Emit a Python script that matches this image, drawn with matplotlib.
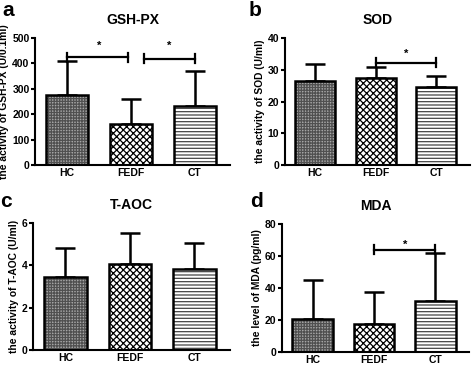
import matplotlib.pyplot as plt

plt.rcParams["font.family"] = ["Liberation Sans", "DejaVu Sans"]
plt.rcParams["font.weight"] = "bold"
plt.rcParams["hatch.linewidth"] = 0.9

groups = ["HC", "FEDF", "CT"]

gsh_mean = [275, 160, 232]
gsh_err = [135, 102, 140]
sod_mean = [26.5, 27.5, 24.7]
sod_err = [5.3, 3.5, 3.3]
taoc_mean = [3.45, 4.05, 3.83]
taoc_err = [1.38, 1.48, 1.2]
mda_mean = [20.5, 17.3, 32.0]
mda_err = [24.5, 20.0, 30.0]

hatches = ["++++++", "xxxxx", "-----"]
faces = ["#a6a6a6", "white", "white"]
hatch_colors = ["#505050", "black", "#444444"]

panels = [
    ("a", "GSH-PX", "the activity of GSH-PX (U/0.1ml)", gsh_mean, gsh_err, [0, 100, 200, 300, 400, 500],
     [0.074, 0.549, 0.411, 0.347], [(0, 0.95, 425), (1.2, 2, 418)], [(0.5, 470), (1.6, 470)], (0.005, 0.97)),
    ("b", "SOD", "the activity of SOD (U/ml)", sod_mean, sod_err, [0, 10, 20, 30, 40],
     [0.601, 0.549, 0.39, 0.347], [(1, 2, 32.2)], [(1.5, 35)], (0.525, 0.97)),
    ("c", "T-AOC", "the activity of T-AOC (U/ml)", taoc_mean, taoc_err, [0, 2, 4, 6],
     [0.07, 0.044, 0.415, 0.347], [], [], (0.0, 0.45)),
    ("d", "MDA", "the level of MDA (pg/ml)", mda_mean, mda_err, [0, 20, 40, 60, 80],
     [0.595, 0.038, 0.395, 0.35], [(1, 2, 64)], [(1.5, 67)], (0.528, 0.45)),
]

fig = plt.figure(figsize=(4.74, 3.66), dpi=100)
for letter, title, ylabel, mean, err, ticks, pos, brackets, stars, lpos in panels:
    ax = fig.add_axes(pos)
    x = list(range(len(groups)))
    ax.bar(x, mean, width=0.66, color=faces, edgecolor=hatch_colors, linewidth=0, hatch=hatches, zorder=2)
    ax.bar(x, mean, width=0.66, fill=False, edgecolor="black", linewidth=1.8, zorder=3)
    ax.errorbar(x, mean, yerr=[[0] * 3, err], fmt="none", ecolor="black", elinewidth=1.8,
                capsize=7, capthick=1.8, zorder=1)
    top = ticks[-1]
    h = top * 0.035
    for x0, x1, y in brackets:
        ax.plot([x0, x1], [y, y], color="black", lw=1.6)
        ax.plot([x0, x0], [y - h, y + h], color="black", lw=1.6)
        ax.plot([x1, x1], [y - h, y + h], color="black", lw=1.6)
    for sx, sy in stars:
        ax.text(sx, sy, "*", ha="center", va="center", fontsize=8)
    ax.set_xlim(-0.5, 2.55)
    ax.set_ylim(0, top)
    ax.set_yticks(ticks)
    ax.set_xticks(x)
    ax.set_xticklabels(groups, fontsize=7.5, fontweight="bold")
    ax.tick_params(axis="y", labelsize=7.5, width=1.5, length=3, pad=1)
    ax.tick_params(axis="x", length=0, pad=2)
    for s in ["top", "right"]:
        ax.spines[s].set_visible(False)
    for s in ["left", "bottom"]:
        ax.spines[s].set_linewidth(1.5)
    ax.set_ylabel(ylabel, fontsize=7.4, fontweight="bold", labelpad=2)
    ax.set_title(title, fontsize=10, fontweight="bold", pad=10)
    fig.text(lpos[0], lpos[1], letter, fontsize=15, fontweight="bold", va="center", ha="left")

fig.savefig("out.png", dpi=100)
